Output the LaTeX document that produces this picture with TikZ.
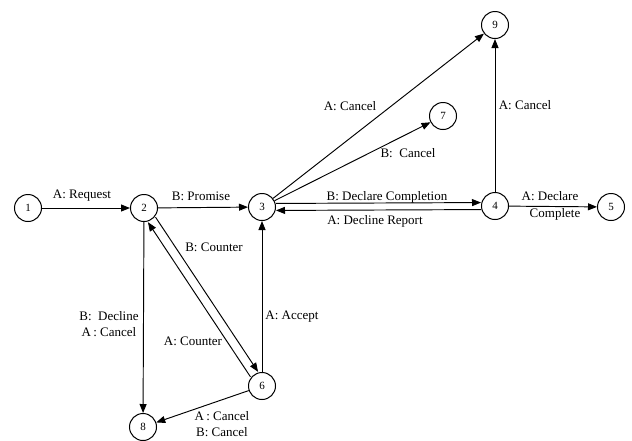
\documentclass[tikz,border=0pt]{standalone}
\usepackage{fontspec}
\setmainfont{Liberation Serif}
\usetikzlibrary{arrows.meta}
\begin{document}
\begin{tikzpicture}[x=1pt,y=-1pt,
  st/.style={circle,draw,line width=1pt,minimum size=27pt,inner sep=0pt,font=\fontsize{11}{11}\selectfont},
  arr/.style={-{Triangle[length=9pt,width=7pt]},line width=0.95pt},
  lbl/.style={font=\fontsize{13}{16.5}\selectfont,inner sep=1pt,align=center}]
\useasboundingbox (0,0) rectangle (632,440);
% states
\node[st] (n1) at (28,208) {1};
\node[st] (n2) at (144,208) {2};
\node[st] (n3) at (262,207) {3};
\node[st] (n4) at (495,206) {4};
\node[st] (n5) at (611,207) {5};
\node[st] (n6) at (262,386) {6};
\node[st] (n7) at (443,116) {7};
\node[st] (n8) at (143,427) {8};
\node[st] (n9) at (495,25) {9};
% connectors
\draw[arr] (n1) -- (n2);
\draw[arr] (n2) -- (n3);
\draw[arr,transform canvas={shift={(0,-3.5)}}] (n3) -- (n4);
\draw[arr,transform canvas={shift={(0,3.5)}}] (n4) -- (n3);
\draw[arr] (n4) -- (n5);
\draw[arr] (n4) -- (n9);
\draw[arr] (n3) -- (n9);
\draw[arr] (n3) -- (n7);
\draw[arr,transform canvas={shift={(3.8,-2.5)}}] (n2) -- (n6);
\draw[arr,transform canvas={shift={(-3.8,2.5)}}] (n6) -- (n2);
\draw[arr] (n6) -- (n3);
\draw[arr] (n2) -- (n8);
\draw[arr] (n6) -- (n8);
% labels
\node[lbl] (l12) at (82,196) {A: Request};
\node[lbl] (l23) at (201,196) {B: Promise};
\node[lbl] (l34) at (387,197) {B: Declare Completion};
\node[lbl] (l43) at (375,221) {A: Decline Report};
\node[lbl] (l45) at (550,206) {A: Declare\\\hspace*{10pt}Complete};
\node[lbl] (l49) at (525,105) {A: Cancel};
\node[lbl] (l39) at (350,106) {A: Cancel};
\node[lbl] (l37) at (408,153) {B:\ \ Cancel};
\node[lbl] (l26) at (214,247) {B: Counter};
\node[lbl] (l62) at (193,341) {A: Counter};
\node[lbl] (l63) at (292,317) {A: Accept};
\node[lbl] (l28) at (109,324) {B:\ \ Decline\\A\,: Cancel};
\node[lbl] (l68) at (222,424) {A\,:\ Cancel\\B: Cancel};
\end{tikzpicture}
\end{document}
